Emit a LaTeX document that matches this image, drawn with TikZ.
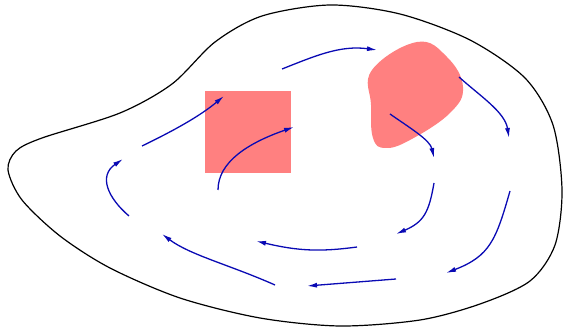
\documentclass[tikz,border=0pt]{standalone}
\usepackage{xcolor}
\usepackage{tikz}
\usetikzlibrary{arrows.meta}

\definecolor{flujo}{RGB}{10,10,180}
\definecolor{zona}{RGB}{255,128,128}

\begin{document}
\begin{tikzpicture}[
            x=1pt, y=-1pt,                     % Coordenadas en pixeles, eje y hacia abajo
            region/.style={
                draw=black,
                line width=1.2pt
            },
            obstaculo/.style={
                fill=zona,
                draw=none
            },
            flow/.style={
                draw=flujo,
                line width=1.3pt,
                -{Latex[length=10pt, width=5pt]}
            }
        ]
            \useasboundingbox (0,0) rectangle (563,328);

            % --- DOMINIO ---
            \draw [region] plot[smooth cycle, tension=0.5] coordinates {
                (8,170) (16,151) (42,138) (120,113) (172,84) (215,42)
                (262,16) (330,5) (400,14) (470,40) (525,78) (553,125)
                (562,190) (555,245) (530,281) (480,304) (420,320)
                (340,326) (260,318) (180,298) (110,268) (60,236) (22,200)
            };

            % --- OBSTACULOS ---
            \fill [obstaculo] (205,91) rectangle (291,173);
            \fill [obstaculo] plot[smooth cycle, tension=0.7] coordinates {
                (372,70) (417,42) (447,57) (463,87) (450,113)
                (410,140) (385,148) (373,138) (371,105)
            };

            % --- LINEAS DE FLUJO ---
            \draw [flow] (282,69) .. controls (315,56) and (340,45) .. (377,50);
            \draw [flow] (142,146) .. controls (175,130) and (200,116) .. (224,96);
            \draw [flow] (218,190) .. controls (218,162) and (248,143) .. (294,127);
            \draw [flow] (129,216) .. controls (108,198) and (98,176) .. (123,159);
            \draw [flow] (390,114) .. controls (410,128) and (430,140) .. (434,158);
            \draw [flow] (459,77) .. controls (480,96) and (505,112) .. (509,138);
            \draw [flow] (434,183) .. controls (429,212) and (424,222) .. (396,234);
            \draw [flow] (510,191) .. controls (496,240) and (490,256) .. (446,273);
            \draw [flow] (357,247) .. controls (320,252) and (298,251) .. (256,241);
            \draw [flow] (396,279) -- (307,286);
            \draw [flow] (275,285) .. controls (230,265) and (190,255) .. (162,234);
        \end{tikzpicture}
\end{document}
